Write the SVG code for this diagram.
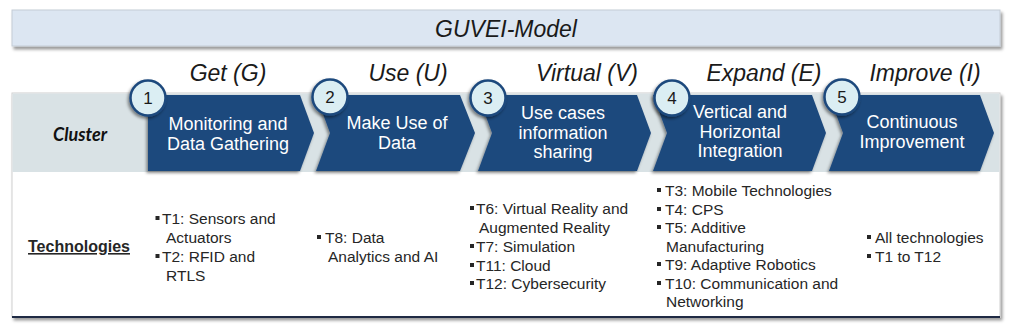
<svg xmlns="http://www.w3.org/2000/svg" width="1012" height="330" viewBox="0 0 1012 330">
<defs>
<filter id="sh" x="-5%" y="-20%" width="110%" height="140%">
<feDropShadow dx="2" dy="3" stdDeviation="1.8" flood-color="#000" flood-opacity="0.4"/>
</filter>
<filter id="sh2" x="-20%" y="-20%" width="140%" height="140%">
<feDropShadow dx="-1.5" dy="2" stdDeviation="1.5" flood-color="#000" flood-opacity="0.45"/>
</filter>
<style>
.title{font-family:"Liberation Sans",Arial,sans-serif;font-style:italic;font-size:23px;fill:#1a1a1a;text-anchor:middle}
.phase{font-family:"Liberation Sans",Arial,sans-serif;font-style:italic;font-size:23px;fill:#1a1a1a;text-anchor:middle}
.chev{fill:#1f497d;filter:url(#sh2)}
.ct{font-family:"Liberation Sans",Arial,sans-serif;font-size:18px;fill:#ffffff;text-anchor:middle}
.circ{fill:#dbeef3;stroke:#1f497d;stroke-width:2.5;filter:url(#sh2)}
.num{font-family:"Liberation Sans",Arial,sans-serif;font-size:17px;fill:#1a1a1a;text-anchor:middle}
.li{font-family:"Liberation Sans",Arial,sans-serif;font-size:15.5px;fill:#262626}
.bul{fill:#262626}
.lab{font-family:Lato,"Open Sans",sans-serif;font-weight:bold;font-style:italic;font-size:18px;fill:#111;text-anchor:middle}
.tech{font-family:"Liberation Sans",Arial,sans-serif;font-weight:bold;font-size:16px;fill:#262626;text-anchor:middle;text-decoration:underline}
</style>
</defs>

<g id="title">
<rect x="12" y="10" width="988" height="36" fill="#dce6f2" stroke="#c4ccd6" stroke-width="1" filter="url(#sh)"/>
<text class="title" x="506" y="37">GUVEI-Model</text>
</g>

<g id="panel">
<rect x="12" y="93" width="988" height="224" fill="#ffffff" stroke="#cfcfcf" stroke-width="1" filter="url(#sh)"/>
<rect x="12.5" y="93.5" width="987" height="78.5" fill="#d9e2e5"/>
<line x1="12" y1="317" x2="1000" y2="317" stroke="#1f2a44" stroke-width="2"/>
</g>

<g id="row-labels">
<text class="lab" x="80" y="141">Cluster</text>
<text class="tech" x="79" y="252">Technologies</text>
</g>

<g id="phase-labels">
<text class="phase" x="228" y="81">Get (G)</text>
<text class="phase" x="408" y="81">Use (U)</text>
<text class="phase" x="587" y="81">Virtual (V)</text>
<text class="phase" x="764" y="81">Expand (E)</text>
<text class="phase" x="925" y="81">Improve (I)</text>
</g>

<g id="connectors"></g>

<g id="step1">
<path class="chev" d="M148,95 H300 L314,133 L300,171 H148 Z"/>
<text class="ct" x="228" y="130">Monitoring and</text>
<text class="ct" x="228" y="150">Data Gathering</text>
<circle class="circ" cx="148" cy="98" r="17.5"/>
<text class="num" x="148" y="104">1</text>
</g>

<g id="step2">
<path class="chev" d="M316,95 H460 L475,133 L460,171 H316 L330,133 Z"/>
<text class="ct" x="397" y="129">Make Use of</text>
<text class="ct" x="397" y="149">Data</text>
<circle class="circ" cx="330" cy="97" r="17.5"/>
<text class="num" x="330" y="103">2</text>
</g>

<g id="step3">
<path class="chev" d="M478,95 H637 L651,133 L637,171 H478 L492,133 Z"/>
<text class="ct" x="563" y="119">Use cases</text>
<text class="ct" x="563" y="138.5">information</text>
<text class="ct" x="563" y="158">sharing</text>
<circle class="circ" cx="488" cy="98" r="17.5"/>
<text class="num" x="488" y="104">3</text>
</g>

<g id="step4">
<path class="chev" d="M653,95 H812 L826,133 L812,171 H653 L667,133 Z"/>
<text class="ct" x="740" y="118">Vertical and</text>
<text class="ct" x="740" y="137.5">Horizontal</text>
<text class="ct" x="740" y="157">Integration</text>
<circle class="circ" cx="672" cy="98" r="17.5"/>
<text class="num" x="672" y="104">4</text>
</g>

<g id="step5">
<path class="chev" d="M829,95 H980 L994,133 L980,171 H829 L843,133 Z"/>
<text class="ct" x="912" y="128">Continuous</text>
<text class="ct" x="912" y="148">Improvement</text>
<circle class="circ" cx="842" cy="97" r="17.5"/>
<text class="num" x="842" y="103">5</text>
</g>

<g id="tech1">
<rect class="bul" x="155.5" y="216" width="4" height="4"/>
<text class="li" x="162" y="224">T1: Sensors and</text>
<text class="li" x="166" y="243">Actuators</text>
<rect class="bul" x="155.5" y="254" width="4" height="4"/>
<text class="li" x="162" y="262">T2: RFID and</text>
<text class="li" x="166" y="281">RTLS</text>
</g>

<g id="tech2">
<rect class="bul" x="317" y="235" width="4" height="4"/>
<text class="li" x="325" y="243">T8: Data</text>
<text class="li" x="328" y="262">Analytics and AI</text>
</g>

<g id="tech3">
<rect class="bul" x="470" y="206" width="4" height="4"/>
<text class="li" x="476" y="214">T6: Virtual Reality and</text>
<text class="li" x="479" y="233">Augmented Reality</text>
<rect class="bul" x="470" y="244" width="4" height="4"/>
<text class="li" x="476" y="252">T7: Simulation</text>
<rect class="bul" x="470" y="263" width="4" height="4"/>
<text class="li" x="476" y="271">T11: Cloud</text>
<rect class="bul" x="470" y="281" width="4" height="4"/>
<text class="li" x="476" y="289">T12: Cybersecurity</text>
</g>

<g id="tech4">
<rect class="bul" x="657" y="188" width="4" height="4"/>
<text class="li" x="665" y="196">T3: Mobile Technologies</text>
<rect class="bul" x="657" y="207" width="4" height="4"/>
<text class="li" x="665" y="215">T4: CPS</text>
<rect class="bul" x="657" y="225" width="4" height="4"/>
<text class="li" x="665" y="233">T5: Additive</text>
<text class="li" x="666" y="252">Manufacturing</text>
<rect class="bul" x="657" y="262" width="4" height="4"/>
<text class="li" x="665" y="270">T9: Adaptive Robotics</text>
<rect class="bul" x="657" y="281" width="4" height="4"/>
<text class="li" x="665" y="289">T10: Communication and</text>
<text class="li" x="666" y="307">Networking</text>
</g>

<g id="tech5">
<rect class="bul" x="867" y="235" width="4" height="4"/>
<text class="li" x="875" y="243">All technologies</text>
<rect class="bul" x="867" y="254" width="4" height="4"/>
<text class="li" x="875" y="262">T1 to T12</text>
</g>
</svg>
